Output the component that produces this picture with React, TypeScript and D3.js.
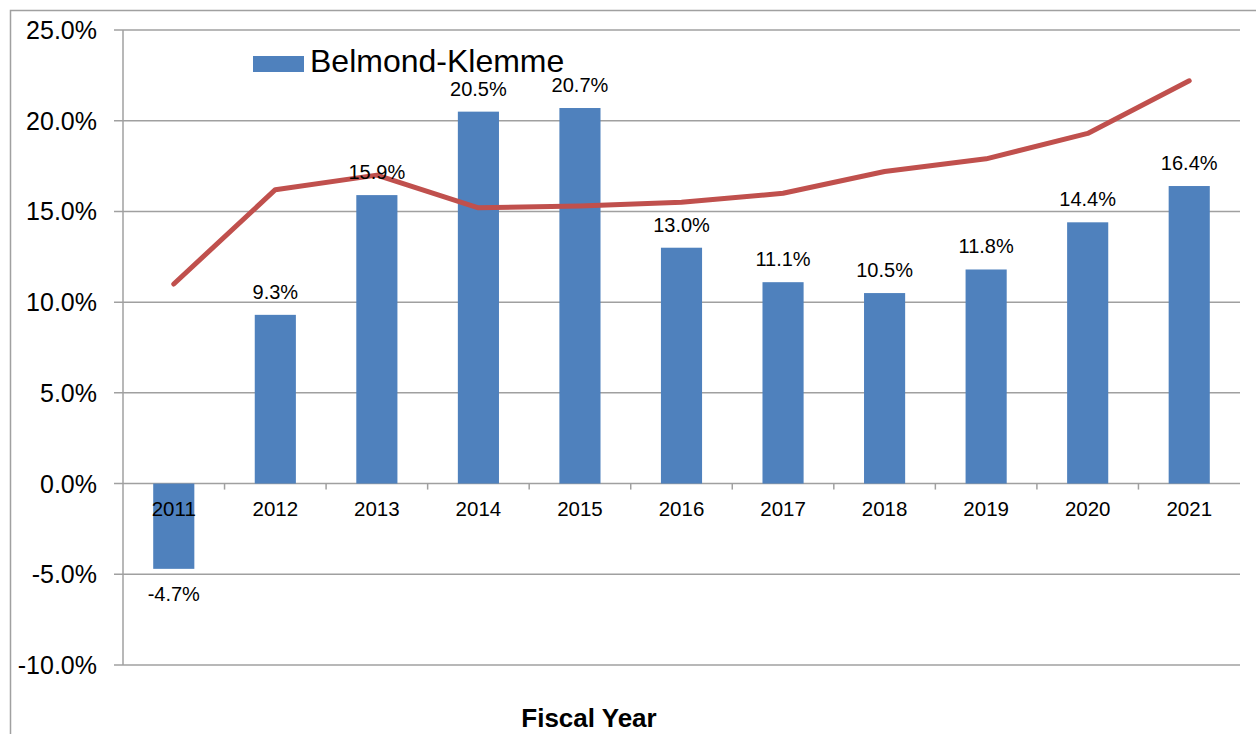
import * as React from 'react'
import * as d3 from 'd3'

const years = ['2011', '2012', '2013', '2014', '2015', '2016', '2017', '2018', '2019', '2020', '2021']
const barValues = [-4.7, 9.3, 15.9, 20.5, 20.7, 13.0, 11.1, 10.5, 11.8, 14.4, 16.4]
const lineValues = [11.0, 16.2, 17.0, 15.2, 15.3, 15.5, 16.0, 17.2, 17.9, 19.3, 22.2]
const yTicks = [-10, -5, 0, 5, 10, 15, 20, 25]
const seriesName = 'Belmond-Klemme'
const axisTitle = 'Fiscal Year'

const W = 1256
const H = 734
const margin = { left: 123, right: 16, top: 30, bottom: 69 }
const font = 'Liberation Sans, Arial, sans-serif'
const grid = '#A0A0A0'

export default function App () {
    const x = d3.scaleBand<string>()
        .domain(years)
        .range([margin.left, W - margin.right])
        .paddingInner(0)
    const y = d3.scaleLinear()
        .domain([-10, 25])
        .range([H - margin.bottom, margin.top])
    const bw = x.bandwidth() * 0.405
    const fmt = (v: number) => v.toFixed(1) + '%'
    const line = d3.line<number>()
        .x((_, i) => x(years[i])! + x.bandwidth() / 2)
        .y(d => y(d))

    return <svg width={W} height={H} style={{ position: 'absolute', left: 0, top: 0, background: '#fff' }}>
        <rect x={10.5} y={10.5} width={W + 20} height={H + 20} fill='#fff' stroke={grid} strokeWidth={1.5} />
        {yTicks.map(t => <g key={t}>
            <line x1={margin.left - 9} x2={W - margin.right} y1={y(t)} y2={y(t)} stroke={grid} strokeWidth={1.5} />
            <text x={97} y={y(t) + 9} textAnchor='end' fontFamily={font} fontSize={25}>{fmt(t)}</text>
        </g>)}
        <line x1={margin.left} x2={margin.left} y1={margin.top} y2={y(-10)} stroke={grid} strokeWidth={1.5} />
        {years.map((yr, i) => i > 0 && <line key={'t' + yr} x1={x(yr)} x2={x(yr)} y1={y(0)} y2={y(0) + 6} stroke={grid} strokeWidth={1.5} />)}
        {barValues.map((v, i) => {
            const cx = x(years[i])! + x.bandwidth() / 2
            return <rect key={'b' + i} x={cx - bw / 2} width={bw} y={Math.min(y(v), y(0))} height={Math.abs(y(v) - y(0))} fill='#4F81BD' />
        })}
        {years.map(yr => <text key={'c' + yr} x={x(yr)! + x.bandwidth() / 2} y={y(0) + 32} textAnchor='middle' fontFamily={font} fontSize={20.5}>{yr}</text>)}
        <path d={line(lineValues) ?? ''} fill='none' stroke='#C0504D' strokeWidth={5} strokeLinejoin='round' strokeLinecap='round' />
        {barValues.map((v, i) => {
            const cx = x(years[i])! + x.bandwidth() / 2
            const ty = v >= 0 ? y(v) - 16 : y(v) + 32
            return <text key={'l' + i} x={cx} y={ty} textAnchor='middle' fontFamily={font} fontSize={20}>{fmt(v)}</text>
        })}
        <rect x={253} y={56} width={51} height={16} fill='#4F81BD' />
        <text x={310} y={72} fontFamily={font} fontSize={32}>{seriesName}</text>
        <text x={589} y={727} textAnchor='middle' fontFamily={font} fontSize={26} fontWeight='bold'>{axisTitle}</text>
    </svg>
}
